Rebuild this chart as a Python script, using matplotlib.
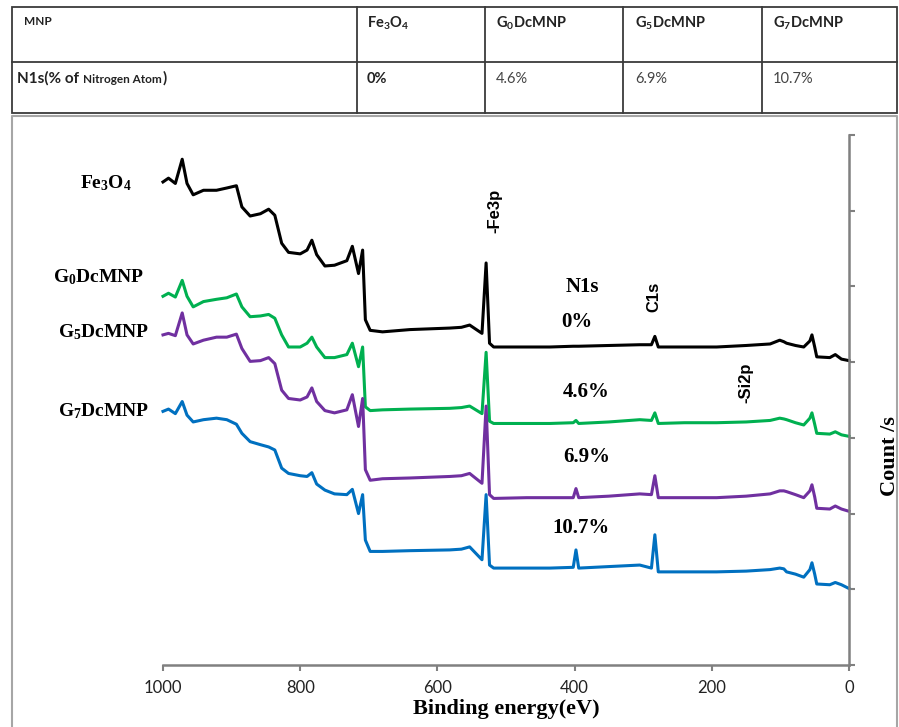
import matplotlib
matplotlib.use('Agg')
import matplotlib.pyplot as plt
from matplotlib.patches import Rectangle

plt.rcParams['mathtext.default'] = 'regular'

# binding energy (eV)
energy = [1000, 992, 982, 972, 965, 956, 941, 922, 907, 893, 885, 873, 858, 846, 837,
          827, 817, 800, 790, 783, 776, 764, 750, 732, 724, 715, 709, 705, 698, 680,
          640, 582, 565, 553, 535, 529, 524, 518, 470, 436, 402, 398, 394, 350, 305,
          288, 283, 278, 240, 193, 150, 115, 101, 95, 91, 78, 66, 57, 54, 50, 47,
          28, 20, 11, 0]

# counts (arbitrary units, curves stacked with offsets as in the figure)
fe3o4 = [6.38, 6.43, 6.36, 6.68, 6.36, 6.21, 6.27, 6.27, 6.30, 6.33, 6.05, 5.93, 5.96, 6.02, 5.94,
         5.57, 5.45, 5.43, 5.48, 5.61, 5.42, 5.27, 5.28, 5.34, 5.53, 5.17, 5.48, 4.56, 4.42, 4.40,
         4.43, 4.45, 4.46, 4.49, 4.38, 5.31, 4.25, 4.20, 4.20, 4.20, 4.21, 4.21, 4.21, 4.22, 4.23,
         4.23, 4.34, 4.20, 4.20, 4.20, 4.22, 4.24, 4.29, 4.27, 4.25, 4.22, 4.20, 4.28, 4.36, 4.20, 4.07,
         4.06, 4.10, 4.04, 4.02]
g0 = [4.87, 4.91, 4.86, 5.08, 4.87, 4.73, 4.80, 4.83, 4.85, 4.90, 4.73, 4.60, 4.61, 4.63, 4.58,
      4.36, 4.20, 4.20, 4.25, 4.33, 4.20, 4.06, 4.06, 4.10, 4.25, 3.94, 4.20, 3.41, 3.36, 3.37,
      3.38, 3.39, 3.40, 3.42, 3.32, 4.13, 3.22, 3.19, 3.19, 3.19, 3.20, 3.23, 3.19, 3.21, 3.24,
      3.23, 3.33, 3.19, 3.20, 3.20, 3.21, 3.23, 3.26, 3.25, 3.24, 3.20, 3.17, 3.26, 3.33, 3.18, 3.06,
      3.05, 3.08, 3.04, 3.02]
g5 = [4.36, 4.38, 4.35, 4.65, 4.36, 4.24, 4.29, 4.33, 4.33, 4.37, 4.18, 4.01, 4.02, 4.06, 3.98,
      3.63, 3.52, 3.50, 3.54, 3.66, 3.48, 3.36, 3.33, 3.37, 3.57, 3.15, 3.52, 2.58, 2.44, 2.46,
      2.47, 2.49, 2.50, 2.53, 2.40, 3.42, 2.25, 2.20, 2.21, 2.21, 2.21, 2.33, 2.21, 2.23, 2.26,
      2.25, 2.50, 2.21, 2.21, 2.21, 2.23, 2.26, 2.30, 2.30, 2.29, 2.25, 2.21, 2.30, 2.38, 2.22, 2.07,
      2.06, 2.10, 2.06, 2.03]
g7 = [3.35, 3.38, 3.32, 3.48, 3.30, 3.21, 3.24, 3.26, 3.24, 3.18, 3.06, 2.95, 2.91, 2.88, 2.84,
      2.60, 2.53, 2.50, 2.49, 2.54, 2.39, 2.31, 2.26, 2.25, 2.32, 2.00, 2.25, 1.65, 1.50, 1.50,
      1.51, 1.52, 1.53, 1.56, 1.39, 2.25, 1.32, 1.28, 1.28, 1.28, 1.29, 1.52, 1.28, 1.30, 1.32,
      1.28, 1.72, 1.23, 1.23, 1.23, 1.24, 1.26, 1.28, 1.27, 1.23, 1.20, 1.16, 1.26, 1.35, 1.20, 1.07,
      1.06, 1.09, 1.06, 1.01]

samples = ['Fe$_3$O$_4$', 'G$_0$DcMNP', 'G$_5$DcMNP', 'G$_7$DcMNP']
n_percent = ['0%', '4.6%', '6.9%', '10.7%']
colors = ['#000000', '#00b050', '#7030a0', '#0070c0']

sans = ['Lato', 'DejaVu Sans']
serif = ['Liberation Serif', 'DejaVu Serif']

fig = plt.figure(figsize=(8.99, 7.27), dpi=100)

# overlay in pixel units for the table and the picture frame
ov = fig.add_axes([0, 0, 1, 1])
ov.set_xlim(0, 899)
ov.set_ylim(727, 0)
ov.axis('off')

ov.plot([12, 12, 897, 897], [727, 116, 116, 727], color='#a6a6a6', lw=1.5)
tc = '#3a3a3a'
ov.add_patch(Rectangle((12, 7), 885, 106, fill=False, ec=tc, lw=1.3))
ov.plot([12, 897], [62, 62], color=tc, lw=1.3)
for cx in [357, 485, 623, 762]:
    ov.plot([cx, cx], [7, 113], color=tc, lw=1.3)

col_x = [367, 496, 635, 773]
ov.text(24, 25, 'MNP', family=sans, weight='bold', fontsize=8.5, color='#222222')
for i, s in enumerate(samples):
    ov.text(col_x[i], 28, s, family=sans, weight='bold', fontsize=10.5, color='#222222')
    ov.text(col_x[i], 83, n_percent[i], family=sans, weight='bold' if i == 0 else 'normal',
            fontsize=10.5, color='#222222' if i == 0 else '#444444')

renderer = fig.canvas.get_renderer()
t1 = ov.text(17, 83, 'N1s(% of', family=sans, weight='bold', fontsize=11, color='#222222')
x1 = t1.get_window_extent(renderer).x1 + 4
t2 = ov.text(x1, 83, 'Nitrogen Atom', family=sans, weight='bold', fontsize=8.5, color='#222222')
x2 = t2.get_window_extent(renderer).x1 + 1
ov.text(x2, 83, ')', family=sans, weight='bold', fontsize=11, color='#222222')

# spectra
ax = fig.add_axes([163 / 899, 62 / 727, 686 / 899, 530 / 727])
ax.patch.set_alpha(0)
for series, c in zip([fe3o4, g0, g5, g7], colors):
    ax.plot(energy, series, color=c, lw=2.2, clip_on=False, solid_joinstyle='round')

ax.set_xlim(1000, 0)
ax.set_ylim(0, 7)
ax.spines['left'].set_visible(False)
ax.spines['top'].set_visible(False)
for sp in ['bottom', 'right']:
    ax.spines[sp].set_color('#808080')
    ax.spines[sp].set_linewidth(1.8)
ax.yaxis.tick_right()
ax.set_yticks(range(8))
ax.set_yticklabels([])
ax.set_xticks([1000, 800, 600, 400, 200, 0])
ax.tick_params(direction='out', length=4, width=1.5, color='#808080', pad=7)
for lab in ax.get_xticklabels():
    lab.set_family(sans)
    lab.set_fontsize(12)
    lab.set_color('#222222')

ax.set_xlabel('Binding energy(eV)', family=serif, weight='bold', fontsize=16, labelpad=2)
ax.yaxis.set_label_position('right')
ax.set_ylabel('Count /s', family=serif, weight='bold', fontsize=16)
ax.yaxis.set_label_coords(1.045, 0.395)

# sample names on the left
name_pos = [(1121, 6.30), (1160, 5.05), (1153, 4.33), (1153, 3.28)]
for s, (xe, yc) in zip(samples, name_pos):
    ax.text(xe, yc, s, family=serif, weight='bold', fontsize=14, ha='left', va='baseline', clip_on=False)

# peak labels
ax.text(516, 6.0, '-Fe3p', family=['Liberation Sans'], weight='bold', fontsize=12,
        rotation=90, ha='center', va='center')
ax.text(284, 4.86, 'C1s', family=['Liberation Sans'], weight='bold', fontsize=12,
        rotation=90, ha='center', va='center')
ax.text(150, 3.73, '-Si2p', family=['Liberation Sans'], weight='bold', fontsize=12,
        rotation=90, ha='center', va='center')
ax.text(389, 4.99, 'N1s', family=serif, weight='bold', fontsize=15, ha='center', va='center')
pct_pos = [(396, 4.53), (383, 3.61), (383, 2.75), (391, 1.81)]
for p, (xe, yc) in zip(n_percent, pct_pos):
    ax.text(xe, yc, p, family=serif, weight='bold', fontsize=15, ha='center', va='center')

fig.savefig('out.png', dpi=100)
